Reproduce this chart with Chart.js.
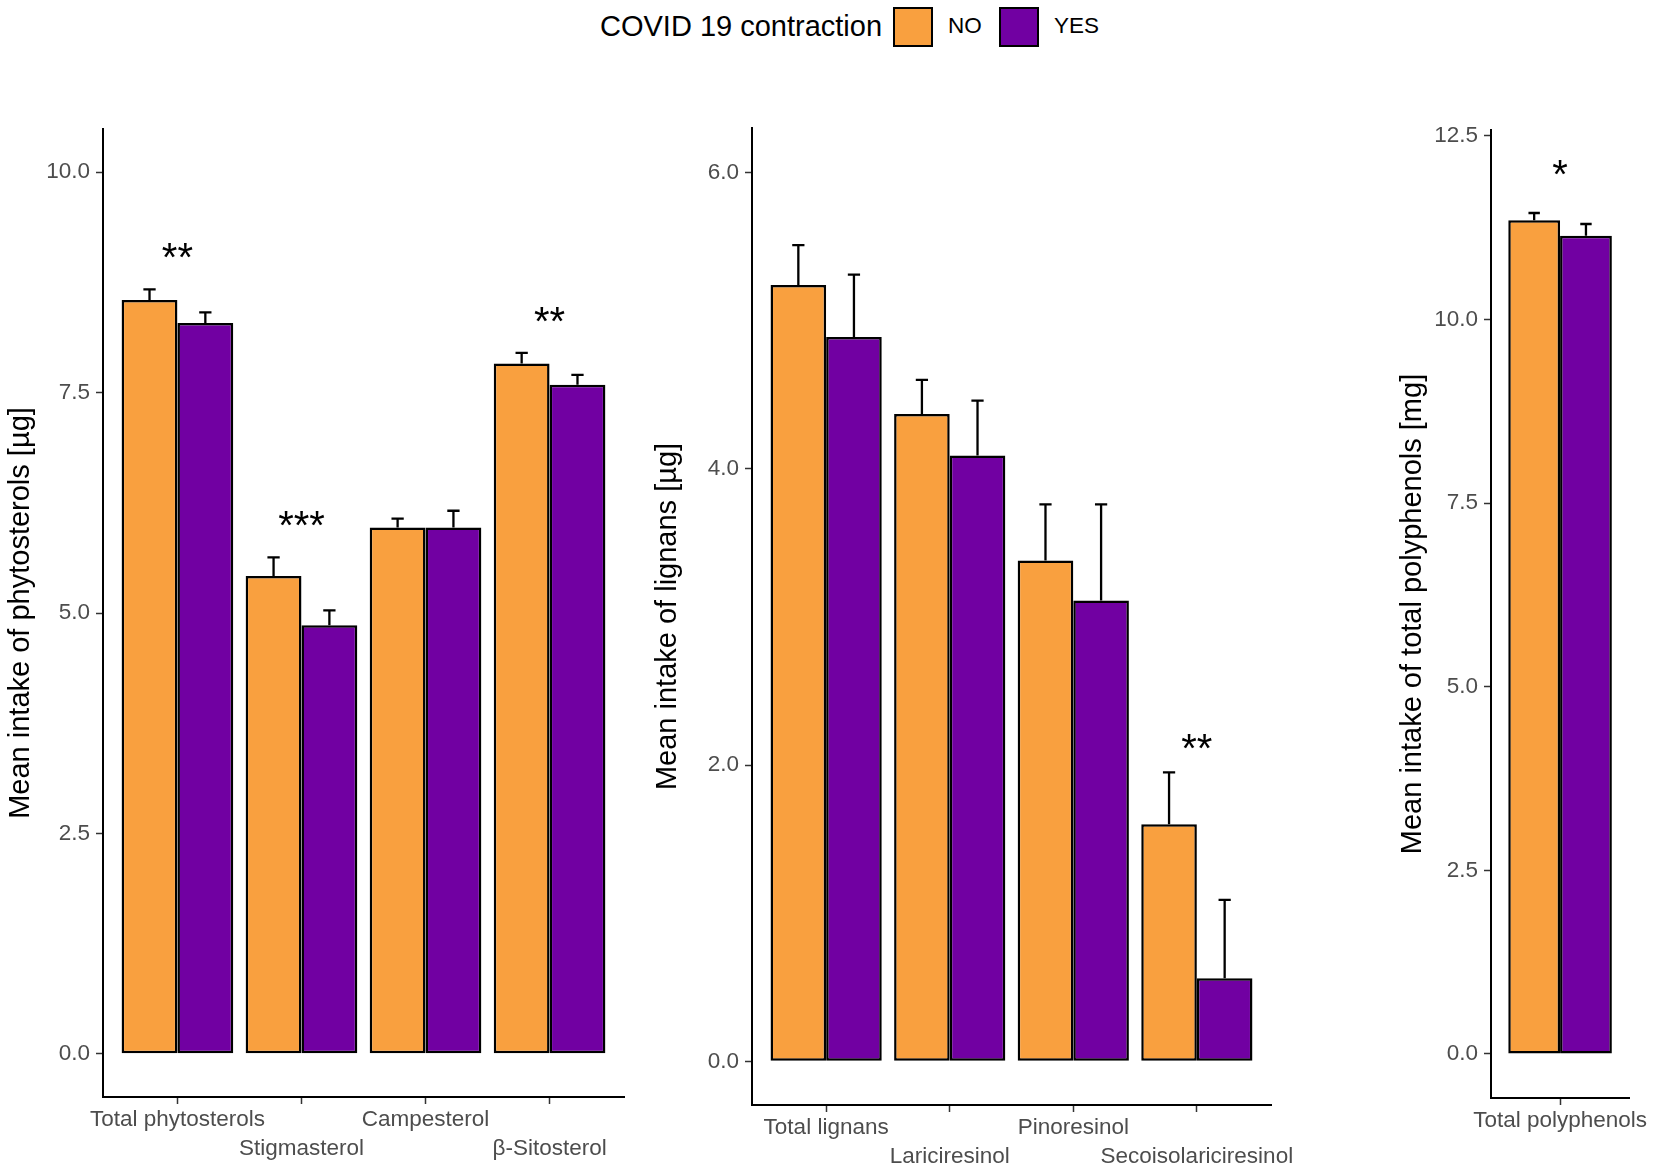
<!DOCTYPE html>
<html>
<head>
<meta charset="utf-8">
<script src="https://cdn.jsdelivr.net/npm/chart.js@4.4.1/dist/chart.umd.min.js"></script>
<style>
html,body{margin:0;padding:0;background:#fff;width:1654px;height:1168px;overflow:hidden;font-family:"Liberation Sans",Arial,sans-serif;}
.panel{position:absolute;top:0;height:1168px;}
.lg{position:absolute;white-space:nowrap;color:#000;}
.box{position:absolute;box-sizing:border-box;border:2px solid #000;}
</style>
</head>
<body>
<div id="legend"></div>
<div class="panel" style="left:0px;width:640px"><canvas id="c1"></canvas></div>
<div class="panel" style="left:640px;width:700px"><canvas id="c2"></canvas></div>
<div class="panel" style="left:1290px;width:364px"><canvas id="c3"></canvas></div>
<script>
// ---------------- DATA ----------------
const legendTitle = "COVID 19 contraction";
const seriesNames = ["NO", "YES"];
const seriesColors = ["#F9A03F", "#7100A2"];

const phytoCategories = ["Total phytosterols", "Stigmasterol", "Campesterol", "β-Sitosterol"];
const phytoNo        = [8.55, 5.42, 5.97, 7.83];
const phytoYes       = [8.29, 4.86, 5.97, 7.59];
const phytoNoUpper   = [8.67, 5.63, 6.07, 7.95];
const phytoYesUpper  = [8.41, 5.03, 6.16, 7.70];
const phytoSignif    = ["**", "***", "", "**"];
const phytoTicks     = [0, 2.5, 5, 7.5, 10];
const phytoRange     = [-0.49, 10.49];
const phytoTitle     = "Mean intake of phytosterols [µg]";

const lignanCategories = ["Total lignans", "Lariciresinol", "Pinoresinol", "Secoisolariciresinol"];
const lignanNo       = [5.24, 4.37, 3.38, 1.60];
const lignanYes      = [4.89, 4.09, 3.11, 0.56];
const lignanNoUpper  = [5.51, 4.60, 3.76, 1.95];
const lignanYesUpper = [5.31, 4.46, 3.76, 1.09];
const lignanSignif   = ["", "", "", "**"];
const lignanTicks    = [0, 2, 4, 6];
const lignanRange    = [-0.295, 6.3];
const lignanTitle    = "Mean intake of lignans [µg]";

const polyCategories = ["Total polyphenols"];
const polyNo         = [11.35];
const polyYes        = [11.14];
const polyNoUpper    = [11.45];
const polyYesUpper   = [11.30];
const polySignif     = ["*"];
const polyTicks      = [0, 2.5, 5, 7.5, 10, 12.5];
const polyRange      = [-0.6, 12.58];
const polyTitle      = "Mean intake of total polyphenols [mg]";

// ---------------- STYLE / LAYOUT ----------------
const FAMILY = '"Liberation Sans", Arial, Helvetica, sans-serif';
Chart.defaults.font.family = FAMILY;

// legend (HTML text)
(function buildLegend(){
  const lg = document.getElementById('legend');
  const t = document.createElement('span');
  t.className = 'lg'; t.textContent = legendTitle;
  t.style.cssText = 'left:600px;top:9px;font-size:29px;line-height:34px;';
  lg.appendChild(t);
  const boxLeft = [893, 999], textLeft = [948, 1054];
  seriesNames.forEach((n, i) => {
    const b = document.createElement('span');
    b.className = 'box';
    b.style.cssText = `left:${boxLeft[i]}px;top:7px;width:40px;height:40px;background:${seriesColors[i]};`;
    lg.appendChild(b);
    const s = document.createElement('span');
    s.className = 'lg'; s.textContent = n;
    s.style.cssText = `left:${textLeft[i]}px;top:11px;font-size:22.5px;line-height:30px;`;
    lg.appendChild(s);
  });
})();

const errSigPlugin = {
  id: 'errsig',
  afterDatasetsDraw(chart, args, opts) {
    const ctx = chart.ctx;
    const ys = chart.scales.y, xs = chart.scales.x;
    ctx.save();
    ctx.strokeStyle = '#000';
    ctx.lineWidth = 2.3;
    opts.uppers.forEach((up, di) => {
      const meta = chart.getDatasetMeta(di);
      meta.data.forEach((el, j) => {
        const x = el.x;
        const top = ys.getPixelForValue(up[j]);
        const cw = el.width * 0.22;
        ctx.beginPath();
        ctx.moveTo(x, el.y); ctx.lineTo(x, top);
        ctx.moveTo(x - cw / 2, top); ctx.lineTo(x + cw / 2, top);
        ctx.stroke();
      });
    });
    const fs = 40;
    ctx.fillStyle = '#000';
    ctx.font = fs + 'px ' + FAMILY;
    ctx.textAlign = 'center';
    ctx.textBaseline = 'alphabetic';
    opts.sig.forEach((s, j) => {
      if (!s) return;
      const x = xs.getPixelForValue(j);
      const topPx = Math.min(...opts.uppers.map(u => ys.getPixelForValue(u[j])));
      const cy = topPx - opts.gap;
      ctx.fillText(s, x, cy + 0.57 * fs);
    });
    ctx.restore();
  }
};

function makePanel(id, cats, noV, yesV, noU, yesU, sig, ticks, range, title, L) {
  const dodge = cats.length > 1;
  new Chart(document.getElementById(id), {
    type: 'bar',
    data: {
      labels: cats,
      datasets: [
        { label: seriesNames[0], data: noV, backgroundColor: seriesColors[0] },
        { label: seriesNames[1], data: yesV, backgroundColor: seriesColors[1] }
      ].map(d => Object.assign(d, {
        borderColor: '#000', borderWidth: 2.5, borderSkipped: false,
        categoryPercentage: L.catPct, barPercentage: 1.0
      }))
    },
    options: {
      responsive: true,
      maintainAspectRatio: false,
      animation: false,
      layout: { padding: { left: L.padLeft, right: L.padRight, top: L.padTop, bottom: 0 } },
      plugins: {
        legend: { display: false },
        tooltip: { enabled: false },
        errsig: { uppers: [noU, yesU], sig: sig, gap: L.sigGap }
      },
      scales: {
        x: {
          type: 'category',
          offset: true,
          afterBuildTicks: s => { s._startValue -= 0.1; s._valueRange += 0.2; },
          afterFit: s => { s.height = L.xHeight; },
          grid: { offset: false, drawOnChartArea: false, drawTicks: true, tickLength: 7, tickColor: '#333', tickWidth: 1.5 },
          border: { display: true, color: '#000', width: 2 },
          ticks: {
            autoSkip: false, maxRotation: 0, minRotation: 0, padding: 1,
            color: '#4D4D4D', font: { size: 22.5, lineHeight: 1.3 },
            callback: function (val, idx) {
              const lab = this.getLabelForValue(val);
              if (!dodge) return lab;
              return idx % 2 === 0 ? [lab, ''] : ['', lab];
            }
          }
        },
        y: {
          type: 'linear',
          min: range[0], max: range[1],
          afterBuildTicks: s => { s.ticks = ticks.map(v => ({ value: v })); },
          afterFit: s => { s.width = L.yWidth; },
          grid: { drawOnChartArea: false, drawTicks: true, tickLength: 7, tickColor: '#333', tickWidth: 1.5 },
          border: { display: true, color: '#000', width: 2 },
          ticks: { padding: 6, color: '#4D4D4D', font: { size: 22.5 }, callback: v => Number(v).toFixed(1) },
          title: { display: true, text: title, color: '#000', font: { size: 29 }, padding: 0 }
        }
      }
    },
    plugins: [errSigPlugin]
  });
}

makePanel('c1', phytoCategories, phytoNo, phytoYes, phytoNoUpper, phytoYesUpper, phytoSignif,
  phytoTicks, phytoRange, phytoTitle,
  { padLeft: 4, yWidth: 99, padRight: 16, padTop: 129, xHeight: 71, catPct: 0.9, sigGap: 41 });
makePanel('c2', lignanCategories, lignanNo, lignanYes, lignanNoUpper, lignanYesUpper, lignanSignif,
  lignanTicks, lignanRange, lignanTitle,
  { padLeft: 11, yWidth: 101, padRight: 69, padTop: 128, xHeight: 63, catPct: 0.9, sigGap: 33 });
makePanel('c3', polyCategories, polyNo, polyYes, polyNoUpper, polyYesUpper, polySignif,
  polyTicks, polyRange, polyTitle,
  { padLeft: 106, yWidth: 95, padRight: 12, padTop: 130, xHeight: 70, catPct: 0.75, sigGap: 48 });
</script>
</body>
</html>
